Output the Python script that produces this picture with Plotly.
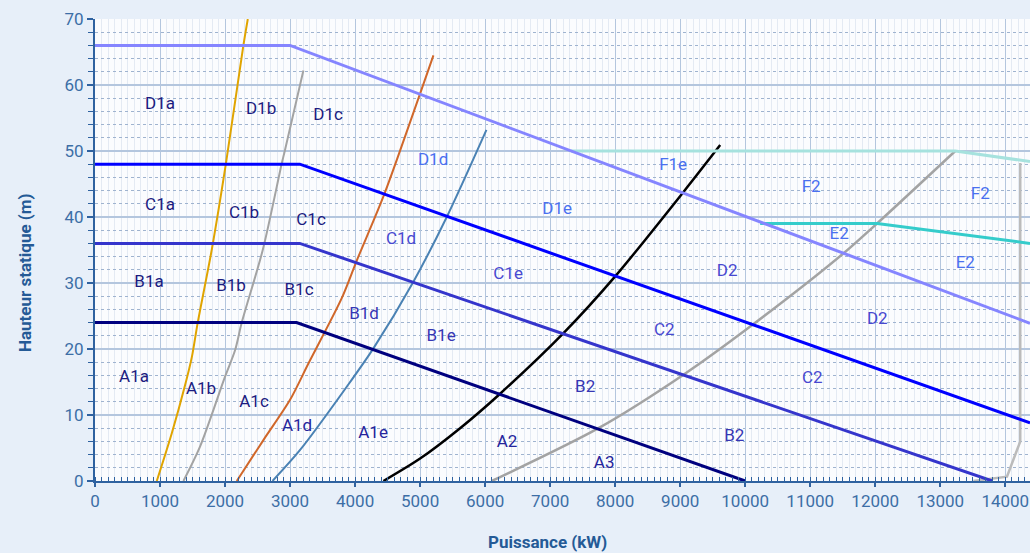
import plotly.graph_objects as go

# ---- boundary lines (head limits) ----
d_x = [0, 3000, 14380]
d_y = [66, 66, 23.9]
c_x = [0, 3150, 14380]
c_y = [48, 48, 8.8]
b_x = [0, 3150, 13800]
b_y = [36, 36, 0]
a_x = [0, 3100, 10000]
a_y = [24, 24, 0]
f_x = [7320, 13230, 14380]
f_y = [50, 50, 48.4]
e_x = [10230, 12030, 14380]
e_y = [39, 39, 36]

# ---- power curves ----
gold_x = [950, 1180, 1385, 1490, 1580, 1795, 2015, 2282, 2350]
gold_y = [0, 7.2, 14.5, 18.8, 24, 35, 48.2, 66, 70]
gray1_x = [1360, 1615, 2000, 2154, 2257, 2580, 2872, 2923, 3205]
gray1_y = [0, 5.2, 15.8, 19.8, 24, 35, 48.1, 50.2, 62.2]
orange_x = [2180, 2590, 3000, 3282, 3795, 4026, 4451, 5000, 5205]
orange_y = [0, 6.2, 12.3, 17.8, 27.7, 33.4, 43.5, 58.7, 64.5]
steel_x = [2730, 3154, 3880, 4282, 4897, 5410, 6020]
steel_y = [0, 4.7, 14.4, 20.1, 30.2, 40, 53.2]
black_x = [4436, 5000, 5615, 6205, 7205, 8000, 9051, 9615]
black_y = [0, 3.4, 8.0, 13.0, 22.4, 31, 43.8, 50.9]
gray2_x = [6103, 7743, 9051, 10077, 11513, 12026, 13231]
gray2_y = [0, 8, 16.1, 23.4, 34.5, 39, 50]
gray3_x = [13510, 14026, 14230, 14230]
gray3_y = [0, 0.65, 6, 48.2]

# ---- zone labels ----
lab_dark = ["D1a", "D1b", "D1c", "C1a", "C1b", "C1c", "B1a", "B1b", "B1c", "A1a", "A1b", "A1c"]
lab_dark_x = [1000, 2554, 3585, 1000, 2292, 3323, 831, 2092, 3138, 600, 1631, 2446]
lab_dark_y = [57, 56.2, 55.3, 41.7, 40.5, 39.5, 30, 29.5, 28.8, 15.6, 13.9, 11.8]

lab_a = ["A1d", "A1e", "A2", "A3"]
lab_a_x = [3108, 4277, 6338, 7831]
lab_a_y = [8.2, 7.1, 5.8, 2.6]

lab_b = ["B1d", "B1e", "B2", "B2"]
lab_b_x = [4138, 5323, 7538, 9831]
lab_b_y = [25.2, 21.8, 14.2, 6.7]

lab_c = ["C1d", "C1e", "C2", "C2", "D2", "D2"]
lab_c_x = [4708, 6354, 8754, 11031, 9723, 12031]
lab_c_y = [36.5, 31.2, 22.7, 15.5, 31.7, 24.5]

lab_d = ["D1d", "D1e", "F1e", "F2", "F2", "E2", "E2"]
lab_d_x = [5200, 7108, 8892, 11015, 13615, 11446, 13385]
lab_d_y = [48.5, 41.1, 47.7, 44.5, 43.3, 37.3, 32.9]

x_ticks = list(range(0, 14001, 1000))
y_ticks = list(range(0, 71, 10))

fig = go.Figure()

def line(x, y, color, width, smooth=False):
    fig.add_trace(go.Scatter(x=x, y=y, mode="lines",
                             line=dict(color=color, width=width,
                                       shape="spline" if smooth else "linear",
                                       smoothing=0.8 if smooth else None),
                             hoverinfo="skip", showlegend=False))

line(gold_x, gold_y, "#E0A400", 2, True)
line(gray1_x, gray1_y, "#A3A3A3", 2, True)
line(orange_x, orange_y, "#D0672A", 2, True)
line(steel_x, steel_y, "#4A82B4", 2, True)
line(black_x, black_y, "#000000", 2.5, True)
line(gray2_x, gray2_y, "#A3A3A3", 2.5, True)
line(gray3_x, gray3_y, "#BBBBBB", 2.5)
line(f_x, f_y, "#A6E2DE", 3)
line(e_x, e_y, "#35CCCB", 3)
line(d_x, d_y, "#8585FF", 3)
line(c_x, c_y, "#0000FF", 3)
line(b_x, b_y, "#3535CC", 3)
line(a_x, a_y, "#00007F", 3)

def labels(t, x, y, color):
    fig.add_trace(go.Scatter(x=x, y=y, text=t, mode="text",
                             textfont=dict(family="Roboto", size=17, color=color),
                             hoverinfo="skip", showlegend=False))

labels(lab_dark, lab_dark_x, lab_dark_y, "#1B1B80")
labels(lab_a, lab_a_x, lab_a_y, "#25259C")
labels(lab_b, lab_b_x, lab_b_y, "#3636B4")
labels(lab_c, lab_c_x, lab_c_y, "#4848D0")
labels(lab_d, lab_d_x, lab_d_y, "#4A70F0")

axis_col = "#2F62A0"
tick_col = "#3C6EA6"

fig.update_xaxes(
    range=[0, 14380], tickvals=x_ticks, ticktext=[str(v) for v in x_ticks],
    ticks="outside", ticklen=4, tickcolor=axis_col, tickwidth=1.5,
    showline=True, linecolor=axis_col, linewidth=2,
    showgrid=True, gridcolor="#B4C6DE", gridwidth=1,
    tickfont=dict(family="Roboto", size=17, color=tick_col),
    zeroline=False,
    minor=dict(dtick=100, ticks="inside", ticklen=4, tickcolor=axis_col, tickwidth=1.2,
               showgrid=True, gridcolor="#E4EAF3", gridwidth=1),
)
fig.update_yaxes(
    range=[0, 70], tickvals=y_ticks,
    ticks="outside", ticklen=6, tickcolor=axis_col, tickwidth=1.5,
    showline=True, linecolor=axis_col, linewidth=2,
    showgrid=True, gridcolor="#B4C6DE", gridwidth=1.5,
    tickfont=dict(family="Roboto", size=17, color=tick_col),
    zeroline=False,
    minor=dict(dtick=2, ticks="outside", ticklen=5, tickcolor=axis_col, tickwidth=1.2,
               showgrid=True, gridcolor="#9FB3CF", griddash="dot", gridwidth=1),
)

fig.add_annotation(text="<b>Puissance (kW)</b>", xref="paper", yref="paper",
                   x=(547 - 95) / 935, y=-(542 - 481) / 462, showarrow=False,
                   xanchor="center", yanchor="middle",
                   font=dict(family="Roboto", size=17, color="#245A96"))
fig.add_annotation(text="<b>Hauteur statique (m)</b>", xref="paper", yref="paper",
                   x=-(95 - 25) / 935, y=(481 - 273) / 462, showarrow=False, textangle=-90,
                   xanchor="center", yanchor="middle",
                   font=dict(family="Roboto", size=17, color="#245A96"))

fig.update_layout(
    width=1030, height=553,
    margin=dict(l=95, r=0, t=19, b=72),
    paper_bgcolor="#E7EFF9", plot_bgcolor="#FBFCFE",
    showlegend=False,
)

fig.write_html("out.html", config={"displayModeBar": False},
               post_script="document.body.style.margin='0';document.body.style.overflow='hidden';")
